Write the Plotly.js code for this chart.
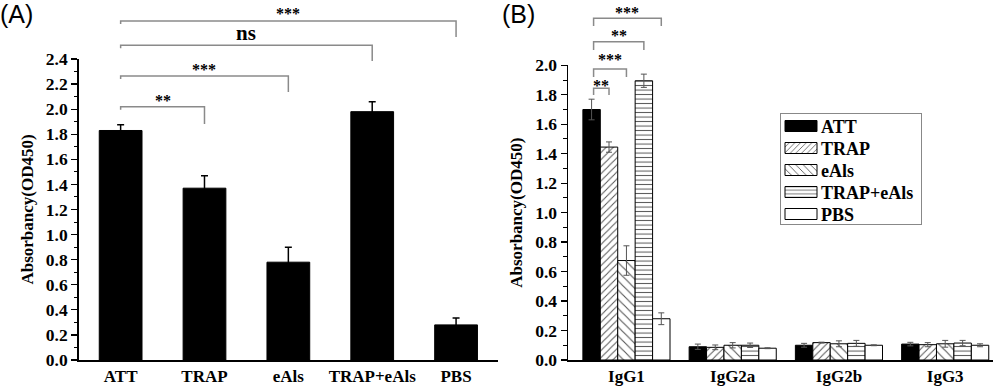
<!DOCTYPE html>
<html>
<head>
<meta charset="utf-8">
<script src="https://cdn.plot.ly/plotly-3.0.1.min.js"></script>
<style>html,body{margin:0;padding:0;background:#fff}#chart{width:1000px;height:388px}</style>
</head>
<body>
<div id="chart"></div>
<script>
// ---------------- DATA ----------------
const groups = ['ATT', 'TRAP', 'eAls', 'TRAP+eAls', 'PBS'];
const panelAValues = [1.83, 1.37, 0.78, 1.98, 0.28];
const panelAErrors = [0.045, 0.10, 0.12, 0.08, 0.055];

const isotypes = ['IgG1', 'IgG2a', 'IgG2b', 'IgG3'];
const attValues = [1.70, 0.09, 0.10, 0.108];
const attErrors = [0.07, 0.018, 0.013, 0.012];
const trapValues = [1.445, 0.086, 0.118, 0.104];
const trapErrors = [0.035, 0.016, 0.003, 0.014];
const eAlsValues = [0.675, 0.10, 0.11, 0.11];
const eAlsErrors = [0.10, 0.018, 0.02, 0.023];
const trapEAlsValues = [1.895, 0.10, 0.113, 0.115];
const trapEAlsErrors = [0.045, 0.015, 0.02, 0.018];
const pbsValues = [0.28, 0.08, 0.10, 0.10];
const pbsErrors = [0.04, 0.003, 0.003, 0.01];

const yTicksA = [0, 0.2, 0.4, 0.6, 0.8, 1.0, 1.2, 1.4, 1.6, 1.8, 2.0, 2.2, 2.4];
const yTicksB = [0, 0.2, 0.4, 0.6, 0.8, 1.0, 1.2, 1.4, 1.6, 1.8, 2.0];

// significance comparisons (reference group ATT vs target)
const sigA = [
  {target: 'TRAP', label: '**'},
  {target: 'eAls', label: '***'},
  {target: 'TRAP+eAls', label: 'ns'},
  {target: 'PBS', label: '***'}
];
const sigB = [
  {target: 'TRAP', label: '**'},
  {target: 'eAls', label: '***'},
  {target: 'TRAP+eAls', label: '**'},
  {target: 'PBS', label: '***'}
];

// ---------------- LAYOUT CONSTANTS ----------------
const W = 1000, H = 388;
const serif = 'Liberation Serif, Times New Roman, serif';
const domXA = [0.0787, 0.498], domXB = [0.568, 0.993];
const domYA = [(H - 360) / H, (H - 59) / H];
const domYB = [(H - 360) / H, (H - 65.3) / H];
const rangeXA = [-0.5, 4.5], rangeXB = [-0.55, 3.45];
const bargapB = 0.18;

function py(pix) { return (H - pix) / H; }
function pxA(i) { return domXA[0] + (i - rangeXA[0]) / (rangeXA[1] - rangeXA[0]) * (domXA[1] - domXA[0]); }
function pxB(g, j) {
  const bw = (1 - bargapB) / groups.length;
  const c = g + (j - (groups.length - 1) / 2) * bw;
  return domXB[0] + (c - rangeXB[0]) / (rangeXB[1] - rangeXB[0]) * (domXB[1] - domXB[0]);
}

// ---------------- TRACES ----------------
const traceA = {
  type: 'bar', x: groups, y: panelAValues, xaxis: 'x', yaxis: 'y',
  width: 0.51, showlegend: false,
  marker: {color: '#000', line: {color: '#000', width: 1}},
  error_y: {type: 'data', array: panelAErrors, visible: true, color: '#000', thickness: 1.5, width: 3.5}
};

const seriesB = [
  {name: 'ATT', y: attValues, e: attErrors, color: '#000', pattern: null},
  {name: 'TRAP', y: trapValues, e: trapErrors, color: '#fff', pattern: {shape: '/', fgcolor: '#555', bgcolor: '#fff', size: 5, solidity: 0.2}},
  {name: 'eAls', y: eAlsValues, e: eAlsErrors, color: '#fff', pattern: {shape: '\\', fgcolor: '#555', bgcolor: '#fff', size: 6.5, solidity: 0.17}},
  {name: 'TRAP+eAls', y: trapEAlsValues, e: trapEAlsErrors, color: '#fff', pattern: {shape: '-', fgcolor: '#555', bgcolor: '#fff', size: 4.5, solidity: 0.22}},
  {name: 'PBS', y: pbsValues, e: pbsErrors, color: '#fff', pattern: null}
];

const tracesB = seriesB.map(s => {
  const m = {color: s.color, line: {color: '#000', width: 1}};
  if (s.pattern) m.pattern = s.pattern;
  return {
    type: 'bar', name: s.name, x: isotypes, y: s.y, xaxis: 'x2', yaxis: 'y2',
    marker: m,
    error_y: {type: 'data', array: s.e, visible: true, color: '#555', thickness: 1, width: 3}
  };
});

// ---------------- SHAPES & ANNOTATIONS ----------------
const shapes = [];
const annotations = [];
const bracketColor = '#8a8a8a';

// Panel A brackets: [line y, right drop y, label y]
const geomA = [[106.7, 124, 98], [76, 92, 66], [45.3, 61, 33], [21, 37, 11]];
sigA.forEach((s, k) => {
  const i0 = 0, i1 = groups.indexOf(s.target);
  const [ly, dy, ty] = geomA[k];
  const x0 = pxA(i0), x1 = pxA(i1);
  shapes.push({type: 'path', xref: 'paper', yref: 'paper',
    path: `M${x0},${py(ly + 3)} L${x0},${py(ly)} L${x1},${py(ly)} L${x1},${py(dy)}`,
    line: {color: bracketColor, width: 1.5}});
  const isNs = s.label === 'ns';
  annotations.push({xref: 'paper', yref: 'paper', x: (x0 + x1) / 2, y: py(isNs ? ty : ty + 3),
    text: s.label, showarrow: false, xanchor: 'center', yanchor: 'middle',
    font: {family: serif, size: isNs ? 21 : 16, weight: 700, color: '#000'}});
});

// Panel B brackets
const geomB = [[88.3, 95, 85], [69, 77, 59], [41.7, 50, 35], [18.3, 26, 12]];
sigB.forEach((s, k) => {
  const j1 = groups.indexOf(s.target);
  const [ly, dy, ty] = geomB[k];
  const x0 = pxB(0, 0) + 0.002, x1 = pxB(0, j1);
  shapes.push({type: 'path', xref: 'paper', yref: 'paper',
    path: `M${x0},${py(dy)} L${x0},${py(ly)} L${x1},${py(ly)} L${x1},${py(dy)}`,
    line: {color: bracketColor, width: 1.5}});
  annotations.push({xref: 'paper', yref: 'paper', x: (x0 + x1) / 2, y: py(ty),
    text: s.label, showarrow: false, xanchor: 'center', yanchor: 'middle',
    font: {family: serif, size: 16, weight: 700, color: '#000'}});
});

// Panel letters
annotations.push({xref: 'paper', yref: 'paper', x: -0.002, y: 1.005, xanchor: 'left', yanchor: 'top',
  text: '(A)', showarrow: false, font: {family: 'Liberation Sans, Arial, sans-serif', size: 25, color: '#000'}});
annotations.push({xref: 'paper', yref: 'paper', x: 0.5, y: 1.005, xanchor: 'left', yanchor: 'top',
  text: '(B)', showarrow: false, font: {family: 'Liberation Sans, Arial, sans-serif', size: 25, color: '#000'}});

// ---------------- AXES ----------------
const tickFont = {family: serif, size: 17.5, weight: 700, color: '#000'};
function yAxis(domain, range, ticks, anchor) {
  return {
    domain: domain, range: range, anchor: anchor, tickvals: ticks, ticktext: ticks.map(v => v.toFixed(1)),
    showline: true, linecolor: '#000', linewidth: 1.5, ticks: 'outside', ticklen: 6, tickwidth: 1.3, tickcolor: '#000',
    minor: {dtick: 0.1, tick0: 0, ticks: 'outside', ticklen: 3.5, tickwidth: 1, tickcolor: '#000', showgrid: false},
    showgrid: false, zeroline: false, tickfont: tickFont, fixedrange: true,
    title: {text: 'Absorbancy(OD450)', font: {family: serif, size: 17, weight: 700, color: '#000'}, standoff: 8}
  };
}
function xAxis(domain, range, anchor) {
  return {
    domain: domain, range: range, anchor: anchor, type: 'category',
    showline: true, linecolor: '#000', linewidth: 1.5, ticks: '', showgrid: false, zeroline: false,
    tickfont: {family: serif, size: 17, weight: 700, color: '#000'}, fixedrange: true
  };
}

const layout = {
  width: W, height: H,
  margin: {l: 0, r: 0, t: 0, b: 0},
  paper_bgcolor: '#fff', plot_bgcolor: '#fff',
  barmode: 'group', bargap: bargapB, bargroupgap: 0,
  xaxis: xAxis(domXA, rangeXA, 'y'),
  yaxis: yAxis(domYA, [0, 2.4], yTicksA, 'x'),
  xaxis2: xAxis(domXB, rangeXB, 'y2'),
  yaxis2: yAxis(domYB, [0, 2.0], yTicksB, 'x2'),
  showlegend: true,
  legend: {
    x: 0.78, y: py(113), xanchor: 'left', yanchor: 'top',
    bordercolor: '#888', borderwidth: 1, bgcolor: '#fff',
    font: {family: serif, size: 18, weight: 700, color: '#000'},
    traceorder: 'normal', tracegroupgap: 0
  },
  shapes: shapes,
  annotations: annotations
};

Plotly.newPlot('chart', [traceA].concat(tracesB), layout, {displayModeBar: false, staticPlot: true}).then(gd => {
  const leg = gd.querySelector('.legend');
  if (!leg) return;
  // widen legend swatches to the reference's rectangular swatches
  leg.querySelectorAll('g.legendpoints path').forEach(p => {
    p.setAttribute('d', 'M16,5.5H-16V-5.5H16Z');
  });
  // tighten row spacing and box size to match the reference legend
  const items = leg.querySelectorAll('g.traces');
  items.forEach((g, k) => {
    const m = /translate\(([-\d.]+)[ ,]+([-\d.]+)\)/.exec(g.getAttribute('transform') || '');
    const x = m ? parseFloat(m[1]) : 1;
    g.setAttribute('transform', `translate(${x},${13 + 22 * k})`);
  });
  const bg = leg.querySelector('rect.bg');
  if (bg) { bg.setAttribute('width', 141); bg.setAttribute('height', 111); }
});
</script>
</body>
</html>
